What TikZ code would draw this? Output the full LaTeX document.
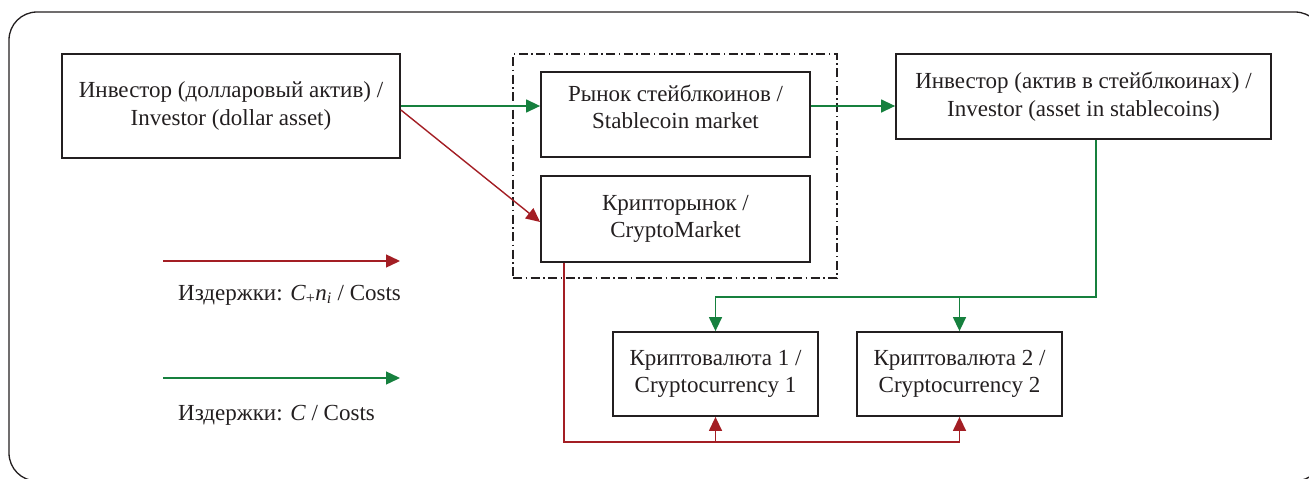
\documentclass[tikz,border=0pt]{standalone}
\usepackage{fontspec}
\setmainfont{Liberation Serif}
\usetikzlibrary{arrows.meta}
\definecolor{cred}{RGB}{163,30,36}
\definecolor{cgreen}{RGB}{22,128,62}
\definecolor{ctext}{RGB}{35,31,32}
\begin{document}
\begin{tikzpicture}[x=1pt,y=-1pt,
  box/.style={draw=ctext, line width=1.8pt, inner sep=0pt, align=center, text=ctext, font=\fontsize{23}{27.5}\selectfont},
  txt/.style={inner sep=0pt, align=center, text=ctext, font=\fontsize{23}{27.5}\selectfont},
  groupbox/.style={draw=ctext, line width=1.4pt, dash pattern=on 9pt off 3.5pt on 1.5pt off 3.5pt, inner sep=0pt},
  redline/.style={draw=cred, line width=1.4pt},
  greenline/.style={draw=cgreen, line width=1.4pt},
  tip/.style={-{Triangle[length=14pt,width=13pt]}},
]
\useasboundingbox (0,0) rectangle (1309,479);
\draw[line width=1.3pt, draw=ctext, rounded corners=28pt] (9,12) rectangle (1323,481);

\node[groupbox, minimum width=324pt, minimum height=224pt] (grp) at (675,166) {};

\node[box, minimum width=338pt, minimum height=104pt] (inv) at (231,106) {Инвестор (долларовый актив) /\\Investor (dollar asset)};
\node[box, minimum width=269pt, minimum height=85pt] (stab) at (675.5,114.5) {};
\node[txt] (stabt) at (675.5,107) {Рынок стейблкоинов /\\Stablecoin market};
\node[box, minimum width=269pt, minimum height=86pt] (cm) at (675.5,219) {Крипторынок /\\CryptoMarket};
\node[box, minimum width=375pt, minimum height=85pt] (inv2) at (1083.5,96.5) {Инвестор (актив в стейблкоинах) /\\Investor (asset in stablecoins)};
\node[box, minimum width=205pt, minimum height=84pt] (c1) at (715.5,374) {Криптовалюта 1 /\\Cryptocurrency 1};
\node[box, minimum width=205pt, minimum height=84pt] (c2) at (959.5,374) {Криптовалюта 2 /\\Cryptocurrency 2};

\coordinate (gbus) at (0,297);
\coordinate (rbus) at (0,442);

\draw[greenline,tip] (inv.east) -- (inv.east -| stab.west);
\draw[greenline,tip] (inv.east -| stab.east) -- (inv.east -| inv2.west);
\draw[redline,tip] ([yshift=-4pt]inv.east) -- ([yshift=-3pt]cm.west);
\draw[greenline,tip] ([xshift=12.5pt]inv2.south) |- (c1.north |- gbus) -- (c1.north);
\draw[greenline,tip] (c2.north |- gbus) -- (c2.north);
\draw[redline,tip] ([xshift=-111.5pt]cm.south) |- (c2.south |- rbus) -- (c2.south);
\draw[redline,tip] (c1.south |- rbus) -- (c1.south);

\coordinate (l1a) at (163,261);
\coordinate (l1b) at (400,261);
\coordinate (l2a) at (163,378);
\coordinate (l2b) at (400,378);
\draw[redline,tip] (l1a) -- (l1b);
\draw[greenline,tip] (l2a) -- (l2b);
\node[txt, anchor=base west] (l1t) at (178,300) {Издержки: \textit{C}\textsubscript{+}\textit{n}\textsubscript{\textit{i}} / Costs};
\node[txt, anchor=base west] (l2t) at (178,420) {Издержки: \textit{C} / Costs};
\end{tikzpicture}
\end{document}
